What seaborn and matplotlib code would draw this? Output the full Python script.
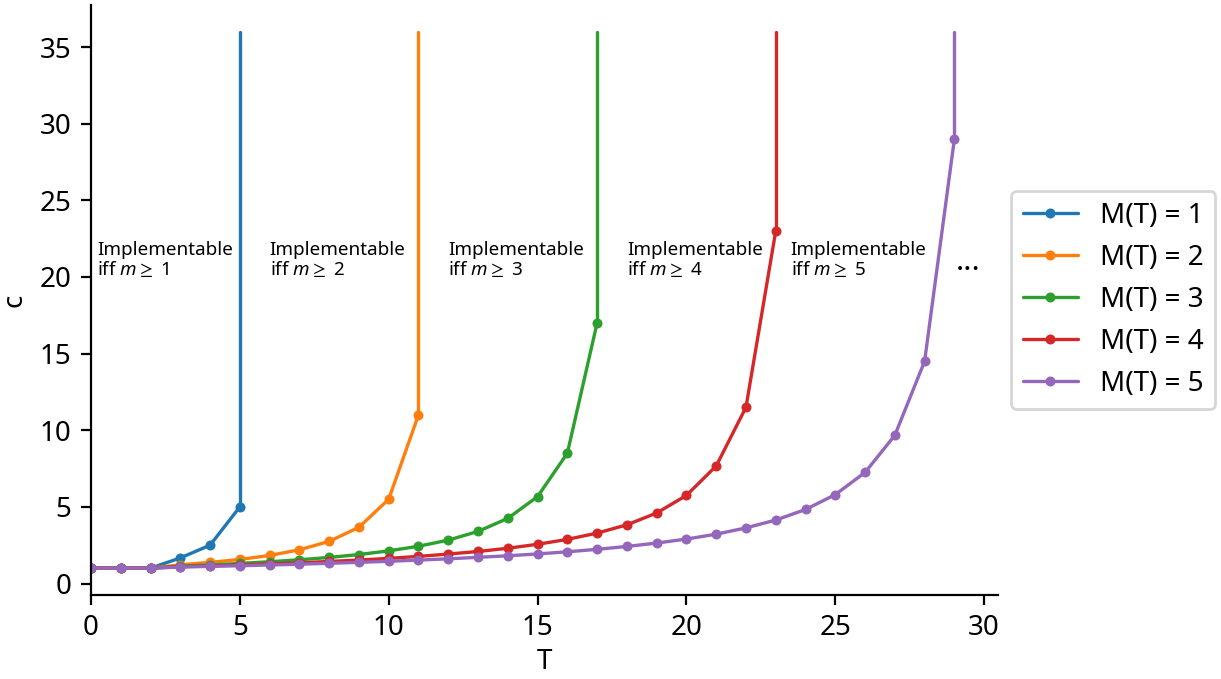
import pandas as pd
import matplotlib.pyplot as plt
import seaborn as sns
from matplotlib.lines import Line2D

# === DATOS ===
T1 = [0, 1, 2, 3, 4, 5]
c1 = [1.0, 1.0, 1.0, 1.67, 2.5, 5.0]

T2 = list(range(0, 12))
c2 = [1.0, 1.0, 1.0, 1.22, 1.38, 1.57, 1.83, 2.2, 2.75, 3.67, 5.5, 11.0]

T3 = list(range(0, 18))
c3 = [1.0, 1.0, 1.0, 1.13, 1.21, 1.31, 1.42, 1.55, 1.7, 1.89, 2.13, 2.43,
      2.83, 3.4, 4.25, 5.67, 8.5, 17.0]

T4 = list(range(0, 24))
c4 = [1.0, 1.0, 1.0, 1.1, 1.15, 1.21, 1.28, 1.35, 1.44, 1.53, 1.64, 1.77,
      1.92, 2.09, 2.3, 2.56, 2.88, 3.29, 3.83, 4.6, 5.75, 7.67, 11.5, 23.0]

T5 = list(range(0, 30))
c5 = [1.0, 1.0, 1.0, 1.07, 1.12, 1.16, 1.21, 1.26, 1.32, 1.38, 1.45, 1.53,
      1.61, 1.71, 1.81, 1.93, 2.07, 2.23, 2.42, 2.64, 2.9, 3.22, 3.63, 4.14,
      4.83, 5.8, 7.25, 9.67, 14.5, 29.0]

series_T = [T1, T2, T3, T4, T5]
series_c = [c1, c2, c3, c4, c5]
labels = ["M(T) = 1", "M(T) = 2", "M(T) = 3", "M(T) = 4", "M(T) = 5"]
c_top = 36  # las verticales suben hasta aquí

text_x = [0.2, 6.0, 12.0, 18.0, 23.5]
text_m = [1, 2, 3, 4, 5]

# === TABLA LARGA ===
frames = []
for T, c, lab in zip(series_T, series_c, labels):
    frames.append(pd.DataFrame({"T": T, "c": c, "M": lab}))
df = pd.concat(frames, ignore_index=True)

# === ESTILO ===
sns.set_style("ticks", rc={
    "axes.edgecolor": "black", "axes.labelcolor": "black", "text.color": "black",
    "xtick.color": "black", "ytick.color": "black",
    "xtick.major.size": 3.5, "ytick.major.size": 3.5,
    "xtick.major.width": 0.8, "ytick.major.width": 0.8,
    "axes.linewidth": 0.8,
})
plt.rcParams["font.family"] = ["Noto Sans", "DejaVu Sans"]
plt.rcParams["mathtext.fontset"] = "custom"
plt.rcParams["mathtext.rm"] = "Noto Sans"
plt.rcParams["mathtext.it"] = "Noto Sans:italic"
plt.rcParams["mathtext.fallback"] = "stixsans"
plt.rcParams["font.size"] = 10

palette = sns.color_palette("tab10", 5)

fig = plt.figure(figsize=(6.105, 3.395), dpi=200)
ax = fig.add_axes([0.0745, 0.1237, 0.7425, 0.869])

sns.lineplot(data=df, x="T", y="c", hue="M", palette=palette, marker="o",
             markersize=3.6, markeredgewidth=0, linewidth=1.2, legend=False, ax=ax)

# verticales hasta "infinito"
for T, c, col in zip(series_T, series_c, palette):
    ax.plot([T[-1], T[-1]], [c[-1], c_top], color=col, linewidth=1.2)

# textos
for x, m in zip(text_x, text_m):
    ax.text(x, 21.1, "Implementable\niff $m \\geq$ " + str(m), fontsize=6.8,
            ha="left", va="center", linespacing=1.0)
ax.text(29.05, 21, "...", fontsize=11, ha="left", va="center", fontweight="bold")

ax.set_xlim(left=0)
ax.set_xlabel("T", labelpad=2)
ax.set_ylabel("c")
sns.despine(ax=ax)

handles = [Line2D([], [], color=col, marker="o", markersize=3.6, markeredgewidth=0,
                  linewidth=1.2) for col in palette]
ax.legend(handles, labels, loc="center left", bbox_to_anchor=(1.0, 0.5))

plt.savefig("out.png", dpi=200)
